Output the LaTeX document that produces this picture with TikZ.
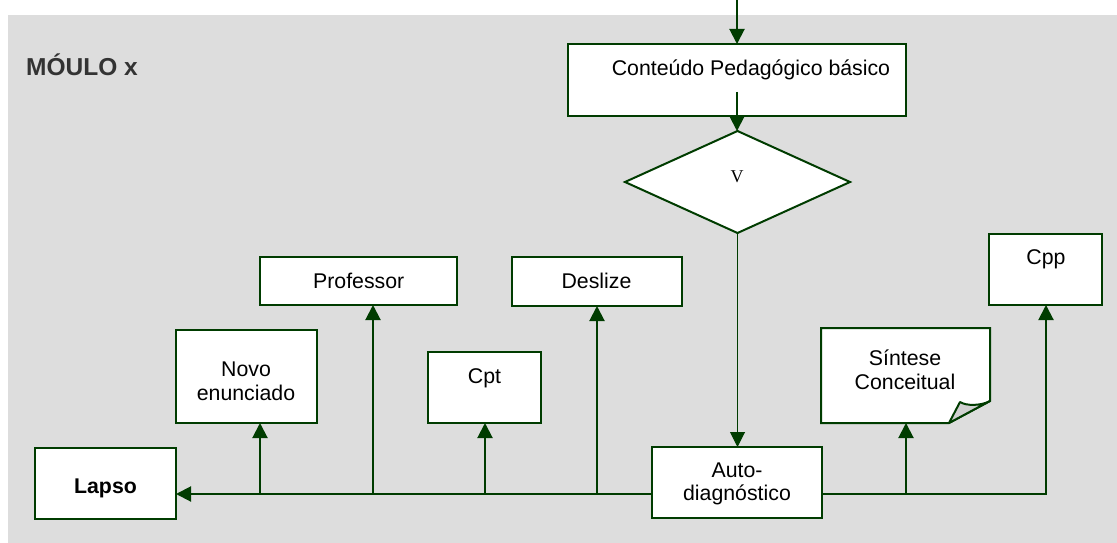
\documentclass[tikz,border=0pt]{standalone}
\usepackage{fontspec}
\setmainfont{Liberation Sans}
\newfontfamily\vfont{Liberation Serif}
\usetikzlibrary{arrows.meta,shapes.geometric,calc}
\definecolor{ink}{RGB}{0,60,0}
\definecolor{panel}{RGB}{221,221,221}
\definecolor{foldgray}{RGB}{208,208,208}
\definecolor{heading}{RGB}{51,51,51}
\tikzset{
  box/.style={draw=ink, line width=2pt, fill=white, rectangle, inner sep=0pt, outer sep=0pt},
  txt/.style={anchor=base, inner sep=0pt, font=\fontsize{21.3}{24}\selectfont},
  conn/.style={draw=ink, line width=2pt},
  arr/.style={conn, -{Triangle[length=15pt,width=15pt]}},
}
\begin{document}
\begin{tikzpicture}[x=1pt,y=-1pt]
\useasboundingbox (0,0) rectangle (1117,543);
\fill[panel] (8,15) rectangle (1117,543);

\node[anchor=base west, inner sep=0pt, text=heading,
      font=\bfseries\fontsize{24.5}{28}\selectfont] (title) at (26,76) {MÓULO x};

% boxes
\node[box, minimum width=338pt, minimum height=72pt] (cont) at (737,80) {};
\node[box, diamond, minimum width=225pt, minimum height=102pt] (diam) at (737.5,182) {};
\node[box, minimum width=141pt, minimum height=71pt] (lapso) at (105.5,483.5) {};
\node[box, minimum width=141pt, minimum height=93pt] (novo) at (246.5,376.5) {};
\node[box, minimum width=197pt, minimum height=48pt] (prof) at (358.5,281) {};
\node[box, minimum width=113pt, minimum height=71pt] (cpt) at (484.5,387.5) {};
\node[box, minimum width=170pt, minimum height=49pt] (desl) at (597,281.5) {};
\node[box, minimum width=170pt, minimum height=71pt] (auto) at (737,482.5) {};
\node[box, minimum width=113pt, minimum height=71pt] (cpp) at (1045.5,269.5) {};
\node[box, draw=none, fill=none, minimum width=169pt, minimum height=95pt] (sint) at (905.5,375.5) {};

% note with folded corner
\filldraw[fill=white, draw=ink, line width=2pt, line join=miter]
  (sint.north west) -- (sint.north east) -- ($(sint.south east)+(0,-22)$)
  -- ($(sint.south east)+(-41,0)$) -- (sint.south west) -- cycle;
\filldraw[fill=foldgray, draw=ink, line width=2pt, line join=round]
  ($(sint.south east)+(-41,0)$) -- ($(sint.south east)+(-30,-21)$)
  .. controls ($(sint.south east)+(-24,-17)$) and ($(sint.south east)+(-9,-17)$)
  .. ($(sint.south east)+(0,-22)$) -- cycle;

% texts
\node[txt] (contT) at (751,76) {Conteúdo Pedagógico básico};
\node[txt, font=\vfont\fontsize{18}{20}\selectfont] (vT) at (737,182) {V};
\node[txt] (profT) at (358.7,288) {Professor};
\node[txt] (deslT) at (596.5,288) {Deslize};
\node[txt] (novoT1) at (246,376) {Novo};
\node[txt] (novoT2) at (246,400) {enunciado};
\node[txt] (cptT) at (484.5,383) {Cpt};
\node[txt, font=\bfseries\fontsize{21.3}{24}\selectfont] (lapsoT) at (105.5,493) {Lapso};
\node[txt] (autoT1) at (737,477) {Auto-};
\node[txt] (autoT2) at (737,500) {diagnóstico};
\node[txt] (sintT1) at (905,365) {Síntese};
\node[txt] (sintT2) at (905,389) {Conceitual};
\node[txt] (cppT) at (1046,264) {Cpp};

% connectors
\coordinate (entry) at (737,0);
\coordinate (contOut) at (737,92);
\draw[arr] (entry) -- (entry |- cont.north);
\draw[arr] (contOut) -- (contOut |- diam.north);
\draw[arr, line width=1pt] (diam.south) -- (diam.south |- auto.north);

\coordinate (busW) at (652,494);
\coordinate (jNovo) at (260,494);
\coordinate (jProf) at (373,494);
\coordinate (jCpt) at (485,494);
\coordinate (jDesl) at (597,494);
\draw[arr] (busW) -- (busW -| lapso.east);
\draw[arr] (jNovo) -- (jNovo |- novo.south);
\draw[arr] (jProf) -- (jProf |- prof.south);
\draw[arr] (jCpt) -- (jCpt |- cpt.south);
\draw[arr] (jDesl) -- (jDesl |- desl.south);

\coordinate (busE) at (822,494);
\coordinate (jSint) at (906,494);
\coordinate (jCpp) at (1046,494);
\draw[conn, line join=miter] (busE) -- (jCpp) -- ($(jCpp)+(0,-2)$);
\draw[arr] (jCpp) -- (jCpp |- cpp.south);
\draw[arr] (jSint) -- (jSint |- sint.south);
\end{tikzpicture}
\end{document}
